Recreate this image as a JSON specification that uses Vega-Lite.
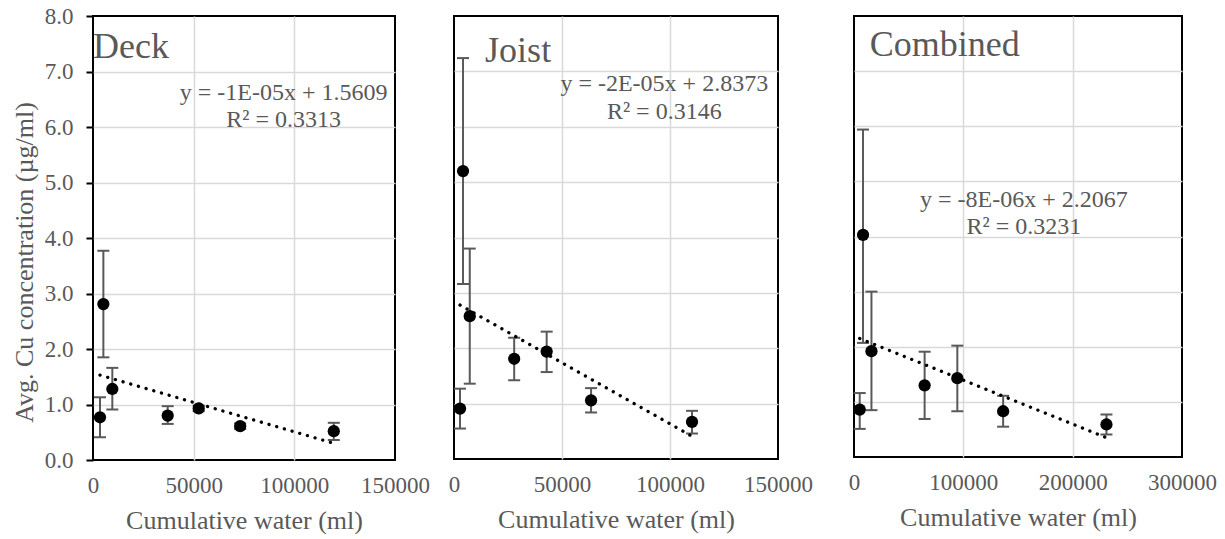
{
  "$schema": "https://vega.github.io/schema/vega-lite/v6.json",
  "padding": {"left": 10, "top": 4, "right": 5, "bottom": 0},
  "datasets": {
    "pts": [
      {"panel": "Deck", "x": 3470, "y": 0.77, "lo": 0.41, "hi": 1.13},
      {"panel": "Deck", "x": 5150, "y": 2.81, "lo": 1.85, "hi": 3.77},
      {"panel": "Deck", "x": 9600, "y": 1.28, "lo": 0.91, "hi": 1.66},
      {"panel": "Deck", "x": 37100, "y": 0.80, "lo": 0.65, "hi": 0.97},
      {"panel": "Deck", "x": 52500, "y": 0.93, "lo": 0.88, "hi": 0.98},
      {"panel": "Deck", "x": 73100, "y": 0.61, "lo": 0.56, "hi": 0.66},
      {"panel": "Deck", "x": 119600, "y": 0.52, "lo": 0.36, "hi": 0.67},
      {"panel": "Joist", "x": 2790, "y": 0.91, "lo": 0.55, "hi": 1.27},
      {"panel": "Joist", "x": 4180, "y": 5.20, "lo": 3.16, "hi": 7.24},
      {"panel": "Joist", "x": 7290, "y": 2.58, "lo": 1.36, "hi": 3.80},
      {"panel": "Joist", "x": 27860, "y": 1.81, "lo": 1.42, "hi": 2.19},
      {"panel": "Joist", "x": 42900, "y": 1.94, "lo": 1.57, "hi": 2.30},
      {"panel": "Joist", "x": 63460, "y": 1.06, "lo": 0.84, "hi": 1.28},
      {"panel": "Joist", "x": 110200, "y": 0.67, "lo": 0.46, "hi": 0.87},
      {"panel": "Combined", "x": 5230, "y": 0.86, "lo": 0.51, "hi": 1.16},
      {"panel": "Combined", "x": 8260, "y": 4.03, "lo": 2.07, "hi": 5.94},
      {"panel": "Combined", "x": 15960, "y": 1.92, "lo": 0.85, "hi": 3.00},
      {"panel": "Combined", "x": 64590, "y": 1.30, "lo": 0.69, "hi": 1.91},
      {"panel": "Combined", "x": 94500, "y": 1.43, "lo": 0.83, "hi": 2.02},
      {"panel": "Combined", "x": 136400, "y": 0.83, "lo": 0.55, "hi": 1.11},
      {"panel": "Combined", "x": 230900, "y": 0.59, "lo": 0.41, "hi": 0.77}
    ],
    "trend": [
      {"panel": "Deck", "x": 3470, "y": 1.53},
      {"panel": "Deck", "x": 119600, "y": 0.30},
      {"panel": "Joist", "x": 2790, "y": 2.78},
      {"panel": "Joist", "x": 110200, "y": 0.41},
      {"panel": "Combined", "x": 5230, "y": 2.15},
      {"panel": "Combined", "x": 230900, "y": 0.35}
    ],
    "names": [
      {"panel": "Deck", "text": "Deck", "x": 0, "y": 7.24},
      {"panel": "Joist", "text": "Joist", "x": 14400, "y": 7.17},
      {"panel": "Combined", "text": "Combined", "x": 14400, "y": 7.27}
    ],
    "eqs": [
      {"panel": "Deck", "text": "y = -1E-05x + 1.5609\nR² = 0.3313", "x": 94650, "y": 6.49},
      {"panel": "Joist", "text": "y = -2E-05x + 2.8373\nR² = 0.3146", "x": 97350, "y": 6.64},
      {"panel": "Combined", "text": "y = -8E-06x + 2.2067\nR² = 0.3231", "x": 155400, "y": 4.54}
    ]
  },
  "spacing": 59,
  "bounds": "flush",
  "hconcat": [
    {
      "width": 302,
      "height": 444,
      "encoding": {
        "x": {"field": "x", "type": "quantitative",
          "scale": {"domain": [0, 150000], "nice": false, "zero": false},
          "axis": {"title": "Cumulative water (ml)", "values": [0, 50000, 100000, 150000], "format": "d",
            "gridColor": {"condition": {"test": "datum.value <= 0 || datum.value >= 150000", "value": "transparent"}, "value": "#d9d9d9"}}}
      },
      "layer": [
        {"data": {"name": "pts"}, "transform": [{"filter": "datum.panel === 'Deck'"}],
          "mark": {"type": "rule", "color": "#595959", "strokeWidth": 2},
          "encoding": {
            "y": {"field": "lo", "type": "quantitative", "scale": {"domain": [0, 8], "nice": false}, "title": "Avg. Cu concentration (µg/ml)",
              "axis": {"title": "Avg. Cu concentration (µg/ml)", "values": [0, 1, 2, 3, 4, 5, 6, 7, 8], "format": ".1f",
                "ticks": true, "tickColor": "black", "tickWidth": 2, "tickSize": 7, "labelPadding": 13,
                "titleX": -56, "titleY": 246,
                "gridColor": {"condition": {"test": "datum.value <= 0 || datum.value >= 8", "value": "transparent"}, "value": "#d9d9d9"}}},
            "y2": {"field": "hi"}}},
        {"data": {"name": "pts"}, "transform": [{"filter": "datum.panel === 'Deck'"}],
          "mark": {"type": "tick", "orient": "horizontal", "size": 12, "thickness": 2, "color": "#595959", "opacity": 1},
          "encoding": {"y": {"field": "lo", "type": "quantitative", "scale": {"domain": [0, 8]}, "title": "Avg. Cu concentration (µg/ml)"}}},
        {"data": {"name": "pts"}, "transform": [{"filter": "datum.panel === 'Deck'"}],
          "mark": {"type": "tick", "orient": "horizontal", "size": 12, "thickness": 2, "color": "#595959", "opacity": 1},
          "encoding": {"y": {"field": "hi", "type": "quantitative", "scale": {"domain": [0, 8]}, "title": "Avg. Cu concentration (µg/ml)"}}},
        {"data": {"name": "trend"}, "transform": [{"filter": "datum.panel === 'Deck'"}],
          "mark": {"type": "line", "color": "black", "strokeWidth": 3.3, "strokeDash": [0.1, 7.9], "strokeCap": "round"},
          "encoding": {"y": {"field": "y", "type": "quantitative", "scale": {"domain": [0, 8]}, "title": "Avg. Cu concentration (µg/ml)"}}},
        {"data": {"name": "pts"}, "transform": [{"filter": "datum.panel === 'Deck'"}],
          "mark": {"type": "circle", "size": 150, "color": "black", "opacity": 1},
          "encoding": {"y": {"field": "y", "type": "quantitative", "scale": {"domain": [0, 8]}, "title": "Avg. Cu concentration (µg/ml)"}}},
        {"data": {"name": "names"}, "transform": [{"filter": "datum.panel === 'Deck'"}],
          "mark": {"type": "text", "align": "left", "baseline": "alphabetic", "fontSize": 36, "color": "#595959"},
          "encoding": {"y": {"field": "y", "type": "quantitative", "scale": {"domain": [0, 8]}, "title": "Avg. Cu concentration (µg/ml)"}, "text": {"field": "text"}}},
        {"data": {"name": "eqs"}, "transform": [{"filter": "datum.panel === 'Deck'"}],
          "mark": {"type": "text", "align": "center", "baseline": "alphabetic", "fontSize": 24, "color": "#595959", "lineBreak": "\n", "lineHeight": 27.5},
          "encoding": {"y": {"field": "y", "type": "quantitative", "scale": {"domain": [0, 8]}, "title": "Avg. Cu concentration (µg/ml)"}, "text": {"field": "text"}}}
      ]
    },
    {
      "spacing": 76,
      "bounds": "flush",
      "hconcat": [
        {
          "width": 324,
          "height": 443,
          "encoding": {
            "x": {"field": "x", "type": "quantitative",
              "scale": {"domain": [0, 150000], "nice": false, "zero": false},
              "axis": {"title": "Cumulative water (ml)", "values": [0, 50000, 100000, 150000], "format": "d",
                "gridColor": {"condition": {"test": "datum.value <= 0 || datum.value >= 150000", "value": "transparent"}, "value": "#d9d9d9"}}}
          },
          "layer": [
            {"data": {"name": "pts"}, "transform": [{"filter": "datum.panel === 'Joist'"}],
              "mark": {"type": "rule", "color": "#595959", "strokeWidth": 2},
              "encoding": {
                "y": {"field": "lo", "type": "quantitative", "scale": {"domain": [0, 8], "nice": false}, "title": null,
                  "axis": {"title": null, "labels": false, "values": [0, 1, 2, 3, 4, 5, 6, 7, 8],
                    "gridColor": {"condition": {"test": "datum.value <= 0 || datum.value >= 8", "value": "transparent"}, "value": "#d9d9d9"}}},
                "y2": {"field": "hi"}}},
            {"data": {"name": "pts"}, "transform": [{"filter": "datum.panel === 'Joist'"}],
              "mark": {"type": "tick", "orient": "horizontal", "size": 12, "thickness": 2, "color": "#595959", "opacity": 1},
              "encoding": {"y": {"field": "lo", "type": "quantitative", "scale": {"domain": [0, 8]}, "title": null}}},
            {"data": {"name": "pts"}, "transform": [{"filter": "datum.panel === 'Joist'"}],
              "mark": {"type": "tick", "orient": "horizontal", "size": 12, "thickness": 2, "color": "#595959", "opacity": 1},
              "encoding": {"y": {"field": "hi", "type": "quantitative", "scale": {"domain": [0, 8]}, "title": null}}},
            {"data": {"name": "trend"}, "transform": [{"filter": "datum.panel === 'Joist'"}],
              "mark": {"type": "line", "color": "black", "strokeWidth": 3.3, "strokeDash": [0.1, 7.9], "strokeCap": "round"},
              "encoding": {"y": {"field": "y", "type": "quantitative", "scale": {"domain": [0, 8]}, "title": null}}},
            {"data": {"name": "pts"}, "transform": [{"filter": "datum.panel === 'Joist'"}],
              "mark": {"type": "circle", "size": 150, "color": "black", "opacity": 1},
              "encoding": {"y": {"field": "y", "type": "quantitative", "scale": {"domain": [0, 8]}, "title": null}}},
            {"data": {"name": "names"}, "transform": [{"filter": "datum.panel === 'Joist'"}],
              "mark": {"type": "text", "align": "left", "baseline": "alphabetic", "fontSize": 36, "color": "#595959"},
              "encoding": {"y": {"field": "y", "type": "quantitative", "scale": {"domain": [0, 8]}, "title": null}, "text": {"field": "text"}}},
            {"data": {"name": "eqs"}, "transform": [{"filter": "datum.panel === 'Joist'"}],
              "mark": {"type": "text", "align": "center", "baseline": "alphabetic", "fontSize": 24, "color": "#595959", "lineBreak": "\n", "lineHeight": 27.5},
              "encoding": {"y": {"field": "y", "type": "quantitative", "scale": {"domain": [0, 8]}, "title": null}, "text": {"field": "text"}}}
          ]
        },
        {
          "width": 328,
          "height": 441,
          "encoding": {
            "x": {"field": "x", "type": "quantitative",
              "scale": {"domain": [0, 300000], "nice": false, "zero": false},
              "axis": {"title": "Cumulative water (ml)", "values": [0, 100000, 200000, 300000], "format": "d",
                "gridColor": {"condition": {"test": "datum.value <= 0 || datum.value >= 300000", "value": "transparent"}, "value": "#d9d9d9"}}}
          },
          "layer": [
            {"data": {"name": "pts"}, "transform": [{"filter": "datum.panel === 'Combined'"}],
              "mark": {"type": "rule", "color": "#595959", "strokeWidth": 2},
              "encoding": {
                "y": {"field": "lo", "type": "quantitative", "scale": {"domain": [0, 8], "nice": false}, "title": null,
                  "axis": {"title": null, "labels": false, "values": [0, 1, 2, 3, 4, 5, 6, 7, 8],
                    "gridColor": {"condition": {"test": "datum.value <= 0 || datum.value >= 8", "value": "transparent"}, "value": "#d9d9d9"}}},
                "y2": {"field": "hi"}}},
            {"data": {"name": "pts"}, "transform": [{"filter": "datum.panel === 'Combined'"}],
              "mark": {"type": "tick", "orient": "horizontal", "size": 12, "thickness": 2, "color": "#595959", "opacity": 1},
              "encoding": {"y": {"field": "lo", "type": "quantitative", "scale": {"domain": [0, 8]}, "title": null}}},
            {"data": {"name": "pts"}, "transform": [{"filter": "datum.panel === 'Combined'"}],
              "mark": {"type": "tick", "orient": "horizontal", "size": 12, "thickness": 2, "color": "#595959", "opacity": 1},
              "encoding": {"y": {"field": "hi", "type": "quantitative", "scale": {"domain": [0, 8]}, "title": null}}},
            {"data": {"name": "trend"}, "transform": [{"filter": "datum.panel === 'Combined'"}],
              "mark": {"type": "line", "color": "black", "strokeWidth": 3.3, "strokeDash": [0.1, 7.9], "strokeCap": "round"},
              "encoding": {"y": {"field": "y", "type": "quantitative", "scale": {"domain": [0, 8]}, "title": null}}},
            {"data": {"name": "pts"}, "transform": [{"filter": "datum.panel === 'Combined'"}],
              "mark": {"type": "circle", "size": 150, "color": "black", "opacity": 1},
              "encoding": {"y": {"field": "y", "type": "quantitative", "scale": {"domain": [0, 8]}, "title": null}}},
            {"data": {"name": "names"}, "transform": [{"filter": "datum.panel === 'Combined'"}],
              "mark": {"type": "text", "align": "left", "baseline": "alphabetic", "fontSize": 36, "color": "#595959"},
              "encoding": {"y": {"field": "y", "type": "quantitative", "scale": {"domain": [0, 8]}, "title": null}, "text": {"field": "text"}}},
            {"data": {"name": "eqs"}, "transform": [{"filter": "datum.panel === 'Combined'"}],
              "mark": {"type": "text", "align": "center", "baseline": "alphabetic", "fontSize": 24, "color": "#595959", "lineBreak": "\n", "lineHeight": 27.5},
              "encoding": {"y": {"field": "y", "type": "quantitative", "scale": {"domain": [0, 8]}, "title": null}, "text": {"field": "text"}}}
          ]
        }
      ]
    }
  ],
  "config": {
    "font": "Liberation Serif",
    "background": "white",
    "view": {"stroke": "black", "strokeWidth": 2},
    "axis": {
      "labelFont": "Liberation Serif",
      "titleFont": "Liberation Serif",
      "labelFontSize": 23,
      "titleFontSize": 26,
      "titleFontWeight": "normal",
      "labelColor": "#595959",
      "titleColor": "#595959",
      "gridColor": "#d9d9d9",
      "gridWidth": 1.5,
      "domain": false,
      "ticks": false,
      "labelOverlap": false,
      "labelFlush": false
    },
    "axisX": {"labelPadding": 14, "titlePadding": 10}
  }
}
